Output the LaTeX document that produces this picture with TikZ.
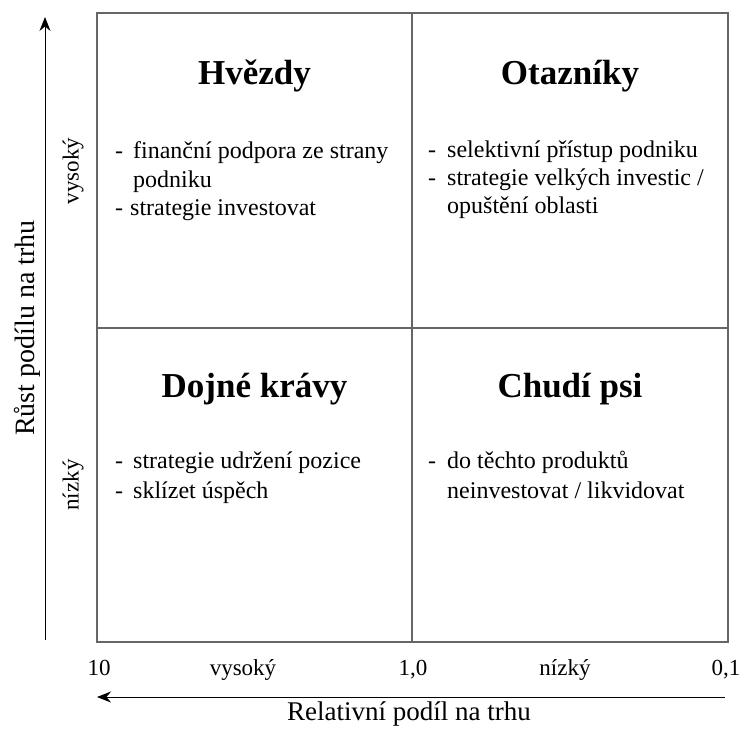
\documentclass[tikz,border=0pt]{standalone}
\usepackage{fontspec}
\setmainfont{Liberation Serif}
\usetikzlibrary{arrows.meta,positioning}

\tikzset{
  frame/.style={draw=black!60, line width=1.3pt},
  axis/.style={draw=black, line width=0.9pt, -{Stealth[length=14pt,width=11pt]}},
  quadtitle/.style={font=\fontsize{35}{40}\selectfont\bfseries, anchor=base, inner sep=0pt},
  bodyline/.style={font=\fontsize{24}{28}\selectfont, anchor=base west, inner sep=0pt},
  ticklabel/.style={font=\fontsize{23}{27}\selectfont, anchor=base, inner sep=0pt},
  sidelabel/.style={font=\fontsize{23}{27}\selectfont, rotate=90, inner sep=0pt},
}

\begin{document}
\begin{tikzpicture}[x=1pt, y=-1pt]
   \useasboundingbox (0,0) rectangle (744,728);

   % matrix frame
   \draw[frame] (97,13) rectangle (728,642);
   \draw[frame] (412,13) -- (412,642);
   \draw[frame] (97,328) -- (728,328);

   % quadrant titles
   \node[quadtitle] (hvezdy) at (254.5,84) {Hvězdy};
   \node[quadtitle] (otazniky) at (570,84) {Otazníky};
   \node[quadtitle] (kravy) at (254.5,397) {Dojné krávy};
   \node[quadtitle] (psi) at (570,397) {Chudí psi};

   % quadrant texts
   \node[bodyline] (hv1) at (115,158) {\makebox[18pt][l]{-}finanční podpora ze strany};
   \node[bodyline] (hv2) at (133,187) {podniku};
   \node[bodyline] (hv3) at (115,215) {\makebox[15pt][l]{-}strategie investovat};
   \node[bodyline] (ot1) at (428,157) {\makebox[19pt][l]{-}selektivní přístup podniku};
   \node[bodyline] (ot2) at (428,185) {\makebox[19pt][l]{-}strategie velkých investic /};
   \node[bodyline] (ot3) at (447,213) {opuštění oblasti};
   \node[bodyline] (kr1) at (115,468) {\makebox[18pt][l]{-}strategie udržení pozice};
   \node[bodyline] (kr2) at (115,498) {\makebox[18pt][l]{-}sklízet úspěch};
   \node[bodyline] (ps1) at (428,468) {\makebox[19pt][l]{-}do těchto produktů};
   \node[bodyline] (ps2) at (447,498) {neinvestovat / likvidovat};

   % growth axis
   \coordinate (yfoot) at (45,640);
   \coordinate (ytip) at (45,17);
   \draw[axis] (yfoot) -- (ytip);
   \node[font=\fontsize{28}{32}\selectfont, rotate=90, inner sep=0pt] (ylab) at (27,328) {Růst podílu na trhu};
   \node[sidelabel] (yhigh) at (73,171) {vysoký};
   \node[sidelabel] (ylow) at (73,485) {nízký};

   % share axis
   \node[ticklabel] (t10) at (99,675) {10};
   \node[ticklabel] (xhigh) at (243,675) {vysoký};
   \node[ticklabel] (t1) at (413,675) {1,0};
   \node[ticklabel] (xlow) at (565,675) {nízký};
   \node[ticklabel] (t01) at (726,675) {0,1};
   \coordinate (xfoot) at (725,697);
   \coordinate (xtip) at (97,697);
   \draw[axis] (xfoot) -- (xtip);
   \node[font=\fontsize{27}{32}\selectfont, anchor=base, inner sep=0pt] (xlab) at (409,720) {Relativní podíl na trhu};
\end{tikzpicture}
\end{document}
